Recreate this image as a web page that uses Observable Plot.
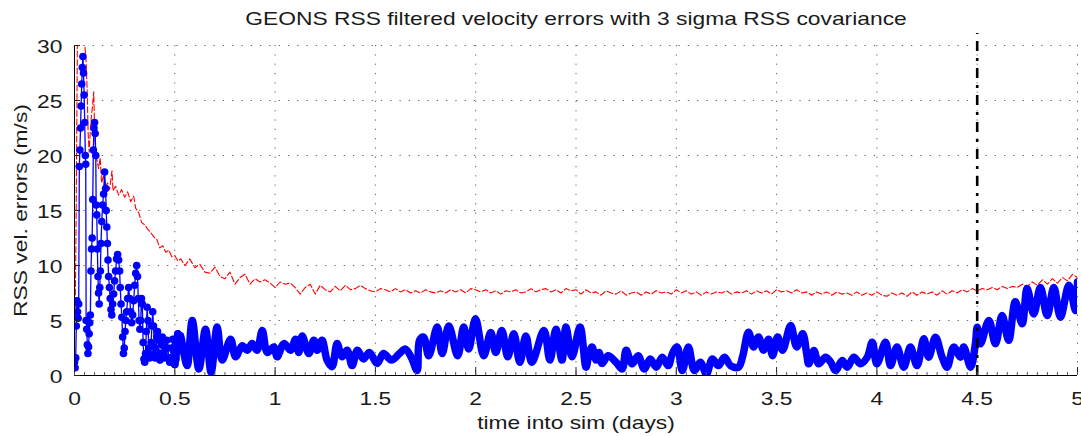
<!DOCTYPE html>
<html>
<head>
<meta charset="utf-8">
<script src="https://cdn.jsdelivr.net/npm/d3@7"></script>
<script src="https://cdn.jsdelivr.net/npm/@observablehq/plot@0.6"></script>
<style>
  html, body { margin: 0; padding: 0; background: #fff; }
</style>
</head>
<body>
<div id="chart"></div>
<script>
const titleText = "GEONS RSS filtered velocity errors with 3 sigma RSS covariance";
const xLabel = "time into sim (days)";
const yLabel = "RSS vel. errors (m/s)";
const xTicks = [0, 0.5, 1, 1.5, 2, 2.5, 3, 3.5, 4, 4.5, 5];
const xTickLabels = ["0", "0.5", "1", "1.5", "2", "2.5", "3", "3.5", "4", "4.5", "5"];
const xMinorTicks = d3.range(0, 5.0001, 0.05);
const yTicks = [0, 5, 10, 15, 20, 25, 30];
const yTickLabels = ["0", "5", "10", "15", "20", "25", "30"];
const markerDay = 4.5;

// Blue: RSS filtered velocity error (days, m/s)
const blueDays = [0.000,0.003,0.006,0.009,0.012,0.015,0.018,0.021,
  0.024,0.027,0.030,0.033,0.036,0.039,0.042,0.045,0.048,0.051,0.054,0.056,
  0.058,0.061,0.064,0.067,0.070,0.073,0.076,0.079,
  0.082,0.085,0.088,0.091,0.094,0.097,0.100,0.103,0.106,0.108,0.111,0.114,0.117,0.120,0.123,0.126,0.129,0.132,0.136,0.140,0.145,0.150,0.155,0.158,0.161,0.164,0.167,0.170,0.174,0.178,0.182,0.186,0.190,0.195,0.200,0.205,0.210,0.215,0.220,0.225,0.228,0.232,0.236,0.240,0.244,0.248,0.252,0.256,0.260,0.265,0.270,0.275,0.280,0.285,0.290,0.295,0.300,0.305,0.310,0.314,0.318,0.322,0.326,0.330,0.334,0.338,0.342,0.346,0.350,0.354,0.358,0.362,0.366,0.370,0.374,0.378,0.382,0.386,0.390,0.394,0.398,0.402,0.406,0.410,0.414,0.418,0.422,0.426,0.430,0.434,0.438,0.442,0.446,0.450,0.455,0.460,0.465,0.470,0.475,0.480,0.485,0.490,0.495,0.500,0.505,0.510,0.515,0.520,
  0.528,0.545,0.562,0.587,0.620,0.653,0.681,0.711,0.736,0.778,0.803,0.836,0.861,0.886,0.910,0.936,0.961,0.994,1.010,1.044,1.077,1.102,1.118,1.135,1.168,1.193,1.210,1.234,1.259,1.284,1.309,1.334,1.359,1.384,1.410,1.440,1.470,1.509,1.540,1.580,1.620,1.650,1.680,1.708,1.720,1.740,1.766,1.808,1.833,1.866,1.910,1.940,1.965,1.999,2.040,2.075,2.100,2.130,2.160,2.190,2.220,2.250,2.280,2.340,2.370,2.400,2.430,2.450,2.480,2.520,2.550,2.565,2.580,2.600,2.615,2.630,2.660,2.700,2.730,2.750,2.780,2.810,2.840,2.870,2.900,2.930,2.960,2.980,3.004,3.030,3.060,3.090,3.120,3.150,3.180,3.210,3.240,3.270,3.310,3.330,3.360,3.385,3.410,3.435,3.460,3.480,3.505,3.530,3.570,3.600,3.630,3.650,3.660,3.686,3.710,3.744,3.770,3.794,3.827,3.852,3.885,3.918,3.952,3.977,4.000,4.043,4.068,4.100,4.134,4.167,4.200,4.234,4.258,4.292,4.325,4.350,4.383,4.417,4.433,4.467,4.491,4.500,4.516,4.558,4.591,4.624,4.657,4.690,4.724,4.749,4.782,4.815,4.849,4.882,4.915,4.957,4.990,5.000];
const blueErr = [1.2,0.7,1.6,4.5,6.8,5.8,5.2,6.5,
  19.0,20.5,22.5,24.5,26.5,28.0,29.0,27.5,25.5,23.0,20.0,19.2,
  5.0,4.2,2.8,2.0,2.6,3.8,4.8,5.5,
  9.5,11.5,12.5,16.0,20.5,22.5,23.0,22.0,20.0,15.5,14.6,11.5,9.0,7.5,6.5,8.0,9.5,12.0,14.0,15.5,16.5,18.5,17.0,15.0,13.5,12.0,10.5,9.0,8.0,7.0,6.0,5.5,6.5,7.4,8.6,9.5,10.6,11.0,10.5,9.5,8.0,6.5,5.3,3.5,2.0,2.5,4.0,5.0,5.8,7.0,8.0,7.0,5.8,4.8,5.5,6.8,8.2,9.3,10.0,9.0,7.0,5.0,4.2,5.0,7.0,6.5,3.0,1.5,1.2,2.0,4.0,6.2,5.0,2.5,1.6,1.9,3.0,4.5,5.8,4.5,2.6,1.6,2.2,3.5,4.0,3.2,2.0,1.4,1.8,2.8,3.5,3.0,2.0,1.6,2.4,3.2,2.5,1.6,1.2,1.6,2.5,3.3,2.2,1.0,1.5,3.0,3.8,3.0,
  3.6,2.0,0.9,5.0,0.6,4.2,0.3,4.4,1.4,3.3,1.7,2.7,2.3,2.9,2.3,4.1,2.1,2.6,1.7,2.9,2.3,3.3,2.1,3.6,2.0,3.2,2.3,3.2,1.4,0.8,2.9,1.7,2.3,0.9,2.3,1.5,2.1,1.1,2.0,1.4,2.0,2.4,1.6,0.45,3.2,3.5,1.8,4.4,2.0,4.5,1.8,4.4,2.4,5.15,1.8,3.9,2.1,4.1,1.7,3.8,1.2,3.6,1.2,4.1,1.4,4.2,1.4,4.4,1.7,4.4,0.76,2.0,2.6,1.4,2.1,1.1,1.8,1.2,0.6,2.3,1.06,1.8,0.6,1.5,0.76,1.67,0.9,1.97,2.6,0.45,2.6,0.45,1.2,0.15,1.5,0.9,1.67,0.9,0.76,1.67,3.94,2.6,3.5,2.3,3.3,1.8,3.5,2.3,4.55,2.6,3.8,1.97,1.06,2.27,1.06,1.67,1.2,0.45,1.36,0.76,1.67,1.06,1.67,3.03,1.06,3.03,0.9,2.58,0.76,2.58,0.9,3.33,1.67,3.48,1.67,0.76,2.58,1.67,2.58,0.76,2.88,4.39,2.88,5.0,2.88,5.45,3.2,6.7,4.7,7.9,5.6,8.0,5.45,8.0,5.3,8.2,5.9,8.5];

// Red: 3 sigma RSS covariance (days, m/s)
const redDays = [0.003,0.008,0.015,0.020,0.030,0.040,0.050,0.058,0.063,0.068,0.073,0.078,0.084,0.090,0.096,0.100,0.106,0.113,0.120,0.128,0.135,0.145,0.155,0.165,0.175,0.187,0.192,0.205,0.220,0.235,0.250,0.265,0.280,0.295,0.305,0.320,0.335,0.350,0.365,0.380,0.395,0.410,0.425,0.440,0.455,0.470,0.485,0.500,0.515,0.530,
  0.550,0.575,0.600,0.625,0.650,0.675,0.700,0.725,0.750,0.775,0.800,0.825,0.850,0.875,0.900,0.925,0.950,0.975,1.000,1.025,1.050,1.075,1.100,1.125,1.150,1.175,1.200,1.225,1.250,1.275,1.300,1.325,1.350,1.375,1.400,1.425,1.450,1.475,1.500,1.525,1.550,1.575,1.600,1.625,1.650,1.675,1.700,1.725,1.750,1.775,1.800,1.825,1.850,1.875,1.900,1.925,1.950,1.975,2.000,2.025,2.050,2.075,2.100,2.125,2.150,2.175,2.200,2.225,2.250,2.275,2.300,2.325,2.350,2.375,2.400,2.425,2.450,2.475,2.500,2.525,2.550,2.575,2.600,2.625,2.650,2.675,2.700,2.725,2.750,2.775,2.800,2.825,2.850,2.875,2.900,2.925,2.950,2.975,3.000,3.025,3.050,3.075,3.100,3.125,3.150,3.175,3.200,3.225,3.250,3.275,3.300,3.325,3.350,3.375,3.400,3.425,3.450,3.475,3.500,3.525,3.550,3.575,3.600,3.625,3.650,3.675,3.700,3.725,3.750,3.775,3.800,3.825,3.850,3.875,3.900,3.925,3.950,3.975,4.000,4.025,4.050,4.075,4.100,4.125,4.150,4.175,4.200,4.225,4.250,4.275,4.300,4.325,4.350,4.375,4.400,4.425,4.450,4.475,4.500,4.525,4.550,4.575,4.600,4.625,4.650,4.675,4.700,4.725,4.750,4.775,4.800,4.825,4.850,4.875,4.900,4.925,4.950,4.975,5.000];
const redSigma = [5.0,14.0,32.0,34.0,33.0,31.0,30.5,28.5,26.0,22.0,20.3,22.0,23.5,24.5,25.8,22.5,20.0,19.5,18.8,19.8,17.5,18.2,17.2,17.5,16.9,18.6,16.8,17.2,16.4,16.9,16.2,16.7,15.8,16.3,15.2,14.8,13.9,13.7,13.3,13.0,12.6,12.4,11.6,11.8,11.2,11.4,10.8,10.9,10.4,10.6,
  10.0,10.6,9.8,10.1,9.4,9.3,9.85,9.0,8.8,9.4,8.3,8.9,9.2,8.3,8.8,8.5,8.7,8.4,8.0,8.5,8.3,8.4,8.0,7.4,8.0,8.3,7.4,8.2,7.8,7.6,8.1,7.7,8.2,7.8,7.9,8.2,7.9,7.7,7.6,7.9,7.8,7.6,7.9,7.6,7.8,7.5,7.7,7.5,7.8,7.6,7.5,7.7,7.5,7.8,7.6,7.8,7.5,7.9,7.8,7.6,7.8,7.5,7.7,7.4,7.7,7.6,7.8,7.5,7.6,7.9,7.6,7.8,7.9,7.6,7.8,7.5,7.9,7.7,7.8,7.4,7.8,7.5,7.6,7.3,7.7,7.5,7.4,7.7,7.3,7.5,7.6,7.3,7.6,7.4,7.7,7.5,7.6,7.4,7.8,7.5,7.7,7.4,7.6,7.3,7.6,7.4,7.6,7.5,7.7,7.4,7.6,7.5,7.7,7.4,7.7,7.5,7.7,7.4,7.8,7.6,7.7,7.5,7.8,7.5,7.6,7.3,7.6,7.4,7.6,7.3,7.6,7.4,7.5,7.3,7.6,7.3,7.5,7.3,7.6,7.3,7.2,7.5,7.3,7.5,7.2,7.6,7.3,7.6,7.4,7.6,7.3,7.7,7.4,7.7,7.5,7.8,7.6,7.9,7.7,7.9,7.8,8.0,7.8,8.1,7.9,8.1,8.0,8.3,8.1,8.5,8.2,8.7,8.3,8.8,8.4,8.9,8.6,9.2,8.9];

const blue = blueDays.map((t, i) => ({t, v: blueErr[i]}));
const red = redDays.map((t, i) => ({t, v: redSigma[i]}));
const blueEarly = blue.filter(d => d.t <= 0.53);
const blueLate = blue.filter(d => d.t >= 0.5);

const W = 1081, H = 436, mL = 74, mR = 4, mT = 45, mB = 61;
const innerW = W - mL - mR, innerH = H - mT - mB;
const ink = "#1a1a1a";

const chart = Plot.plot({
  width: W, height: H,
  marginLeft: mL, marginRight: mR, marginTop: mT, marginBottom: mB,
  x: {domain: [0, 5], axis: null},
  y: {domain: [0, 30], axis: null},
  style: {fontFamily: "'Liberation Sans', Arial, Helvetica, sans-serif", background: "#fff", color: ink},
  marks: [
    // dotted grid
    Plot.ruleX(xTicks, {x: d => d, stroke: "#666", strokeWidth: 1, strokeDasharray: "1.3,8"}),
    Plot.ruleY(yTicks, {y: d => d, stroke: "#666", strokeWidth: 1, strokeDasharray: "1.3,8"}),
    // covariance
    Plot.line(red, {x: "t", y: "v", stroke: "#ff0000", strokeWidth: 1.1, strokeDasharray: "6,2.5", clip: true}),
    // errors
    Plot.line(blue, {x: "t", y: "v", stroke: "#0000ff", strokeWidth: 1.3, clip: true}),
    Plot.dot(blueEarly, {x: "t", y: "v", r: 3.8, fill: "#0000ff", stroke: null, clip: true}),
    Plot.line(blueLate, {x: "t", y: "v", stroke: "#0000ff", strokeWidth: 7.5, curve: "catmull-rom", clip: true}),
    // vertical marker
    Plot.ruleX([markerDay], {x: d => d, y1: 0, y2: 31.1, stroke: "#000", strokeWidth: 2.6, strokeDasharray: "10,7,3,7"}),
    // axes lines
    Plot.ruleX([0], {x: d => d, stroke: "#000", strokeWidth: 1}),
    Plot.ruleY([0], {y: d => d, stroke: "#000", strokeWidth: 1}),
    // inner ticks
    Plot.tickX(xTicks, {x: d => d, stroke: "#222", strokeWidth: 1, insetTop: innerH - 8}),
    Plot.tickX(xMinorTicks, {x: d => d, stroke: "#555", strokeWidth: 1, insetTop: innerH - 3}),
    Plot.tickY(yTicks, {y: d => d, stroke: "#222", strokeWidth: 1, insetRight: innerW - 6}),
    // tick labels
    Plot.text(xTicks, {x: d => d, text: (d, i) => xTickLabels[i], frameAnchor: "bottom", lineAnchor: "middle", dy: 23, fontSize: 19, fill: ink}),
    Plot.text(yTicks, {y: d => d, text: (d, i) => yTickLabels[i], frameAnchor: "left", textAnchor: "end", lineAnchor: "middle", dx: -12, dy: 1.5, fontSize: 19, fill: ink}),
    // labels and title
    Plot.text([xLabel], {text: d => d, frameAnchor: "bottom", lineAnchor: "middle", dy: 47, fontSize: 19, fill: ink}),
    Plot.text([yLabel], {text: d => d, frameAnchor: "left", textAnchor: "middle", lineAnchor: "middle", rotate: -90, dx: -54, dy: 0, fontSize: 19, fill: ink}),
    Plot.text([titleText], {text: d => d, frameAnchor: "top", lineAnchor: "middle", dy: -27, fontSize: 19, fill: ink})
  ]
});

document.getElementById("chart").appendChild(chart);

// the reference's lettering is slightly wider than plain Helvetica: stretch the texts along their baseline
chart.querySelectorAll("text").forEach(el => {
  const L = el.getComputedTextLength();
  if (L > 0) {
    el.setAttribute("textLength", (L * 1.2).toFixed(1));
    el.setAttribute("lengthAdjust", "spacingAndGlyphs");
  }
});
</script>
</body>
</html>
